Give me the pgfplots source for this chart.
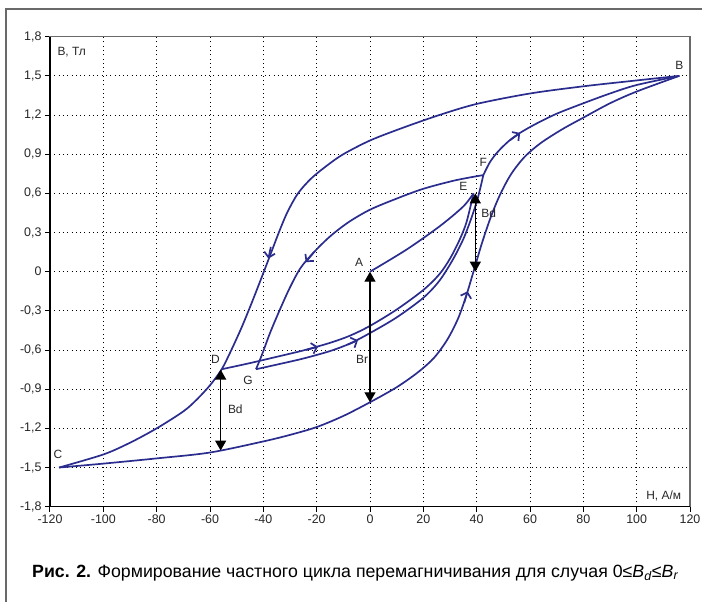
\documentclass[border=0pt]{standalone}
\usepackage{graphicx}
\usepackage{fontspec}
\setmainfont{Liberation Sans}
\usepackage{pgfplots}
\pgfplotsset{compat=1.18}
\usetikzlibrary{arrows.meta}

\definecolor{loopblue}{RGB}{43,45,142}
\definecolor{framegray}{RGB}{105,105,105}

\tikzset{
  barb/.style={-{Straight Barb[length=5bp,width=11bp]}, line width=1.7bp},
  dimarrow/.style={black, line width=1.3bp, sharp plot,
    {Triangle[length=10bp,width=11bp]}-{Triangle[length=10bp,width=11bp]}},
  lbl/.style={font=\fontsize{12}{13}\selectfont, text=black!85},
}

\begin{document}
\begin{tikzpicture}
\useasboundingbox (0,0) rectangle (702bp,602bp);
\draw[framegray, line width=1.5bp] (6bp,0) -- (6bp,593bp) -- (702bp,593bp);
\begin{axis}[
  at={(50bp,95.3bp)}, anchor=south west,
  scale only axis, width=640bp, height=470bp,
  xmin=-120, xmax=120, ymin=-1.8, ymax=1.8,
  xtick={-120,-100,-80,-60,-40,-20,0,20,40,60,80,100,120},
  ytick={-1.8,-1.5,-1.2,-0.9,-0.6,-0.3,0,0.3,0.6,0.9,1.2,1.5,1.8},
  grid=major,
  major grid style={black, line width=0.9bp, dash pattern=on 0.9bp off 3.4bp},
  axis line style={framegray, line width=1.5bp},
  tick align=outside, xtick pos=left, ytick pos=left,
  major tick length=5bp,
  tick style={black, line width=1bp},
  ticklabel style={font=\fontsize{12.5}{13}\selectfont, text=black!85},
  /pgf/number format/assume math mode=true,
  /pgf/number format/use comma,
  /pgf/number format/fixed,
  /pgf/number format/precision=1,
  /pgf/number format/1000 sep={},
  cycle list={{loopblue, solid}},
  every axis plot/.append style={loopblue, line width=1.7bp, smooth, no markers},
  clip=false,
]

% major loop, descending branch B -> C
\addplot coordinates {(116,1.5) (100,1.465) (80,1.42) (60,1.365) (40,1.285) (26,1.2)
  (12,1.1) (0,1.005) (-10,0.9) (-16,0.815) (-22,0.715) (-27,0.6) (-31,0.455)
  (-34,0.31) (-37,0.15) (-40,-0.01) (-44,-0.22) (-48,-0.42) (-52,-0.6)
  (-55.6,-0.747) (-60,-0.87) (-65,-0.98) (-70,-1.07) (-80,-1.2) (-90,-1.31)
  (-100,-1.4) (-116.6,-1.5)};
\addplot[barb] coordinates {(-37.2,0.19) (-38.1,0.1)};

% major loop, ascending branch C -> B
\addplot coordinates {(-116.6,-1.5) (-100,-1.47) (-80,-1.43) (-60,-1.385) (-40,-1.3)
  (-30,-1.25) (-20,-1.19) (-10,-1.105) (0,-1.0) (10,-0.885) (18,-0.77) (24,-0.66)
  (29,-0.52) (33,-0.36) (36,-0.19) (38.8,0.0) (42,0.22) (45.5,0.43) (49,0.6)
  (53,0.75) (58,0.88) (64,0.985) (72,1.09) (80,1.18) (90,1.29) (100,1.38) (116,1.5)};
\addplot[barb] coordinates {(35.3,-0.24) (36.6,-0.15)};

% A -> E
\addplot coordinates {(0,0) (13.75,0.17) (26.25,0.35) (35,0.5) (38.8,0.6)};

% D -> E
\addplot coordinates {(-55.6,-0.747) (-45,-0.7) (-35,-0.652) (-25,-0.603)
  (-15,-0.545) (-7.5,-0.49) (0,-0.415) (10,-0.29) (20,-0.14) (26,-0.02)
  (30,0.1) (33.5,0.24) (36.2,0.38) (38.8,0.6)};
\addplot[barb] coordinates {(-24,-0.6) (-19.5,-0.575)};

% G -> F -> B
\addplot coordinates {(-42.75,-0.747) (-35,-0.712) (-25,-0.665) (-15,-0.608)
  (-7.5,-0.55) (0,-0.47) (10,-0.35) (20,-0.2) (26,-0.07) (31,0.09) (35,0.25)
  (38,0.41) (40.5,0.57) (42.5,0.74)};
\addplot coordinates {(42.5,0.74) (45,0.84) (48,0.92) (52,1.0) (56,1.06) (62,1.13)
  (70,1.21) (80,1.29) (90,1.365) (100,1.43) (116,1.5)};
\addplot[barb] coordinates {(-8.5,-0.56) (-4.5,-0.525)};
\addplot[barb] coordinates {(52.5,1.007) (56.3,1.063)};

% F -> G
\addplot coordinates {(42.5,0.74) (32,0.7) (20,0.635) (10,0.56) (0,0.475) (-8,0.38)
  (-15,0.27) (-21,0.15) (-26,0.03) (-30,-0.12) (-34,-0.3) (-37.5,-0.47)
  (-40.5,-0.635) (-42.75,-0.747)};
\addplot[barb] coordinates {(-21,0.15) (-24.1,0.073)};

% Bd, Br, Bd
\addplot[dimarrow] coordinates {(39.5,0) (39.5,0.6)};
\addplot[dimarrow] coordinates {(0,0) (0,-1.0)};
\addplot[dimarrow] coordinates {(-56,-0.75) (-56,-1.37)};

\draw[black, line width=1.6bp] (-120,1.8) -- (-120,-1.8) -- (120,-1.8);

\node[lbl] at (-4.1,0.07) {A};
\node[lbl] at (116,1.58) {B};
\node[lbl] at (-117,-1.4) {C};
\node[lbl] at (-58,-0.67) {D};
\node[lbl] at (35,0.65) {E};
\node[lbl] at (42.5,0.84) {F};
\node[lbl] at (-45.7,-0.83) {G};
\node[lbl] at (44.5,0.45) {Bd};
\node[lbl] at (-3,-0.675) {Br};
\node[lbl] at (-50.5,-1.05) {Bd};
\node[lbl, anchor=west] at (-118.5,1.68) {B, Тл};
\node[lbl, anchor=east] at (118,-1.72) {H, А/м};
\end{axis}
\node[anchor=base west, inner sep=0pt] at (32bp,25bp)
  {\fontsize{17.8}{20}\selectfont\textbf{Рис. 2.} Формирование частного цикла перемагничивания для случая 0≤\textit{B}\textsubscript{\textit{d}}≤\textit{B}\textsubscript{\textit{r}}};
\end{tikzpicture}
\end{document}
